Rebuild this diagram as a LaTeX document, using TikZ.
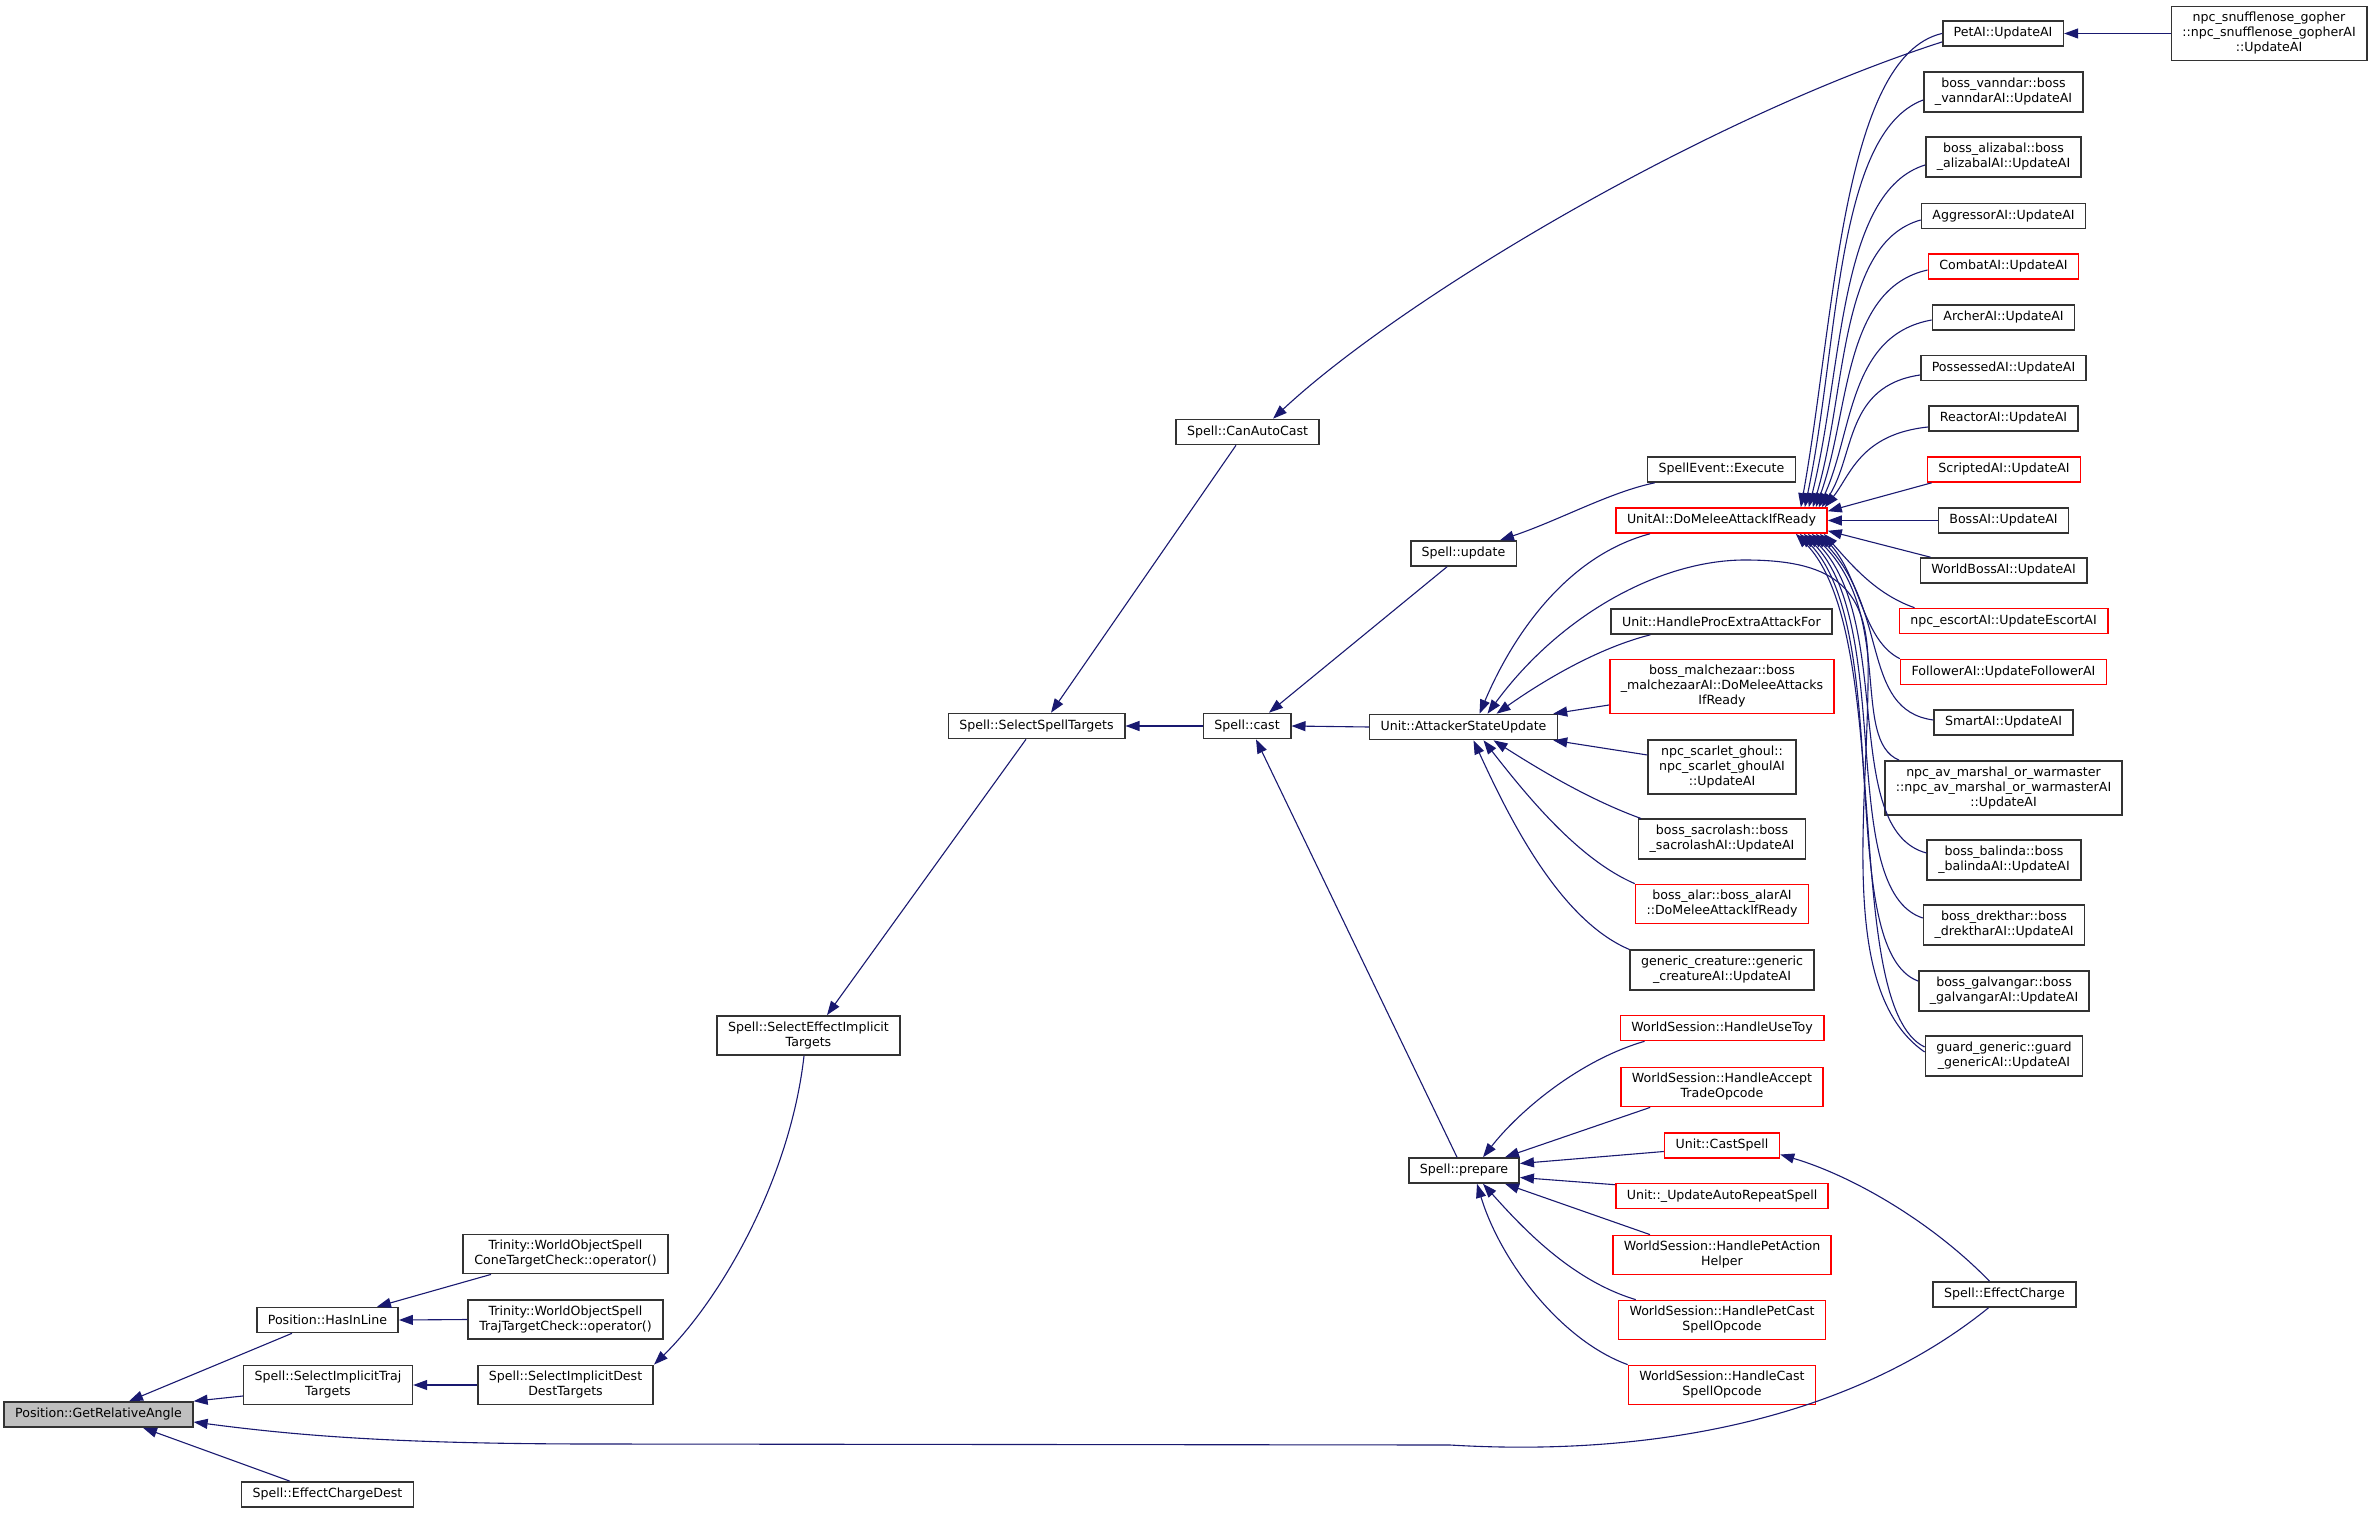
\documentclass[tikz,border=0pt]{standalone}
\usepackage{fontspec}
\setmainfont{DejaVu Sans}
\usetikzlibrary{arrows.meta,calc}

\definecolor{edgeblue}{HTML}{191970}
\definecolor{rootgray}{HTML}{BFBFBF}

\tikzset{
  fn/.style={draw=black!80, line width=0.8pt, fill=white, inner xsep=5.5pt,
    inner ysep=3pt, minimum height=12.5pt, align=center,
    font=\fontsize{6.3}{7.5}\selectfont},
  trunc/.style={fn, draw=red},
  root/.style={fn, fill=rootgray},
  call/.style={draw=edgeblue, line width=0.55pt, {Triangle[length=7pt,width=5pt]}-},
}

\begin{document}
\begin{tikzpicture}[x=0.5pt, y=-0.5pt]
  \useasboundingbox (0,0) rectangle (2376,1513);

  % --- left part: GetRelativeAngle and its callers ---
  \node[root] (gra) at (98.5,1414.5) {Position::GetRelativeAngle};
  \node[fn] (hil) at (327.5,1320) {Position::HasInLine};
  \node[fn] (sitt) at (328,1385) {Spell::SelectImplicitTraj\\Targets};
  \node[fn] (ecd) at (327.5,1494.5) {Spell::EffectChargeDest};
  \node[fn] (cone) at (565.5,1254) {Trinity::WorldObjectSpell\\ConeTargetCheck::operator()};
  \node[fn] (traj) at (565.5,1319.5) {Trinity::WorldObjectSpell\\TrajTargetCheck::operator()};
  \node[fn] (sidd) at (565.5,1385) {Spell::SelectImplicitDest\\DestTargets};
  \node[fn] (seit) at (808.5,1035.5) {Spell::SelectEffectImplicit\\Targets};
  \node[fn] (sst) at (1036.5,726) {Spell::SelectSpellTargets};
  \node[fn] (cac) at (1247.5,432) {Spell::CanAutoCast};
  \node[fn] (cast) at (1247,726) {Spell::cast};

  % --- middle column ---
  \node[fn] (upd) at (1463.5,553.5) {Spell::update};
  \node[fn] (asu) at (1463.5,727) {Unit::AttackerStateUpdate};
  \node[fn] (prep) at (1464,1170.5) {Spell::prepare};

  % --- callers of update / AttackerStateUpdate / prepare ---
  \node[fn] (exe) at (1721.5,469.5) {SpellEvent::Execute};
  \node[trunc] (dmaf) at (1721.5,520.5) {UnitAI::DoMeleeAttackIfReady};
  \node[fn] (hpea) at (1721.5,621.5) {Unit::HandleProcExtraAttackFor};
  \node[trunc] (malch) at (1722,686.5) {boss\_malchezaar::boss\\\_malchezaarAI::DoMeleeAttacks\\IfReady};
  \node[fn] (ghoul) at (1722,767) {npc\_scarlet\_ghoul::\\npc\_scarlet\_ghoulAI\\::UpdateAI};
  \node[fn] (sacro) at (1722,839) {boss\_sacrolash::boss\\\_sacrolashAI::UpdateAI};
  \node[trunc] (alar) at (1722,904) {boss\_alar::boss\_alarAI\\::DoMeleeAttackIfReady};
  \node[fn] (gencr) at (1722,970) {generic\_creature::generic\\\_creatureAI::UpdateAI};
  \node[trunc] (usetoy) at (1722,1028) {WorldSession::HandleUseToy};
  \node[trunc] (trade) at (1722,1087) {WorldSession::HandleAccept\\TradeOpcode};
  \node[trunc] (castsp) at (1722,1145.5) {Unit::CastSpell};
  \node[trunc] (autorep) at (1722,1196) {Unit::\_UpdateAutoRepeatSpell};
  \node[trunc] (petact) at (1722,1255) {WorldSession::HandlePetAction\\Helper};
  \node[trunc] (petcast) at (1722,1320) {WorldSession::HandlePetCast\\SpellOpcode};
  \node[trunc] (castop) at (1722,1385) {WorldSession::HandleCast\\SpellOpcode};

  % --- right column: AI update functions ---
  \node[fn] (petai) at (2003,33.5) {PetAI::UpdateAI};
  \node[fn] (snuff) at (2269,33.5) {npc\_snufflenose\_gopher\\::npc\_snufflenose\_gopherAI\\::UpdateAI};
  \node[fn] (vann) at (2003.5,92) {boss\_vanndar::boss\\\_vanndarAI::UpdateAI};
  \node[fn] (aliz) at (2003.5,157) {boss\_alizabal::boss\\\_alizabalAI::UpdateAI};
  \node[fn] (aggr) at (2003.5,216) {AggressorAI::UpdateAI};
  \node[trunc] (combat) at (2003.5,266.5) {CombatAI::UpdateAI};
  \node[fn] (archer) at (2003.5,317.5) {ArcherAI::UpdateAI};
  \node[fn] (possessed) at (2003.5,368) {PossessedAI::UpdateAI};
  \node[fn] (reactor) at (2003.5,418.5) {ReactorAI::UpdateAI};
  \node[trunc] (scripted) at (2004,469.5) {ScriptedAI::UpdateAI};
  \node[fn] (bossai) at (2003.5,520.5) {BossAI::UpdateAI};
  \node[fn] (wboss) at (2003.5,570.5) {WorldBossAI::UpdateAI};
  \node[trunc] (escort) at (2003.5,621) {npc\_escortAI::UpdateEscortAI};
  \node[trunc] (follower) at (2003.5,672) {FollowerAI::UpdateFollowerAI};
  \node[fn] (smart) at (2003.5,722.5) {SmartAI::UpdateAI};
  \node[fn] (avm) at (2003.5,788) {npc\_av\_marshal\_or\_warmaster\\::npc\_av\_marshal\_or\_warmasterAI\\::UpdateAI};
  \node[fn] (balinda) at (2004,860) {boss\_balinda::boss\\\_balindaAI::UpdateAI};
  \node[fn] (drek) at (2004,925) {boss\_drekthar::boss\\\_drektharAI::UpdateAI};
  \node[fn] (galv) at (2004,991) {boss\_galvangar::boss\\\_galvangarAI::UpdateAI};
  \node[fn] (guard) at (2004,1056) {guard\_generic::guard\\\_genericAI::UpdateAI};
  \node[fn] (echarge) at (2004.5,1294.5) {Spell::EffectCharge};

  % --- edges, arrow head at the called function ---
  \draw[call] ($(gra.north)+(30.5,0)$) -- ($(hil.south)+(-35.5,0)$);
  \draw[call] (gra.north east) -- ($(sitt.west)+(0,11)$);
  \draw[call] ($(gra.south)+(44.5,0)$) -- ($(ecd.north)+(-37.5,0)$);
  \draw[call] ($(gra.east)+(0,7.5)$) .. controls (300,1436) and (400,1444) .. (600,1444)
    -- (1450,1445) .. controls (1650,1457) and (1850,1420) .. ($(echarge.south)+(-16,0)$);
  \draw[call] ($(hil.north)+(49.5,0)$) -- ($(cone.south)+(-74.5,0)$);
  \draw[call] (hil.east) -- (traj.west);
  \draw[call] (sitt.east) -- (sidd.west);
  \draw[call] (sidd.north east) .. controls (720,1300) and (790,1180) .. ($(seit.south)+(-4.5,0)$);
  \draw[call] ($(seit.north)+(18.5,0)$) -- ($(sst.south)+(-10.5,0)$);
  \draw[call] ($(sst.north)+(14.5,0)$) -- ($(cac.south)+(-11.5,0)$);
  \draw[call] (sst.east) -- (cast.west);
  \draw[call] ($(cac.north)+(25.5,0)$) .. controls (1400,300) and (1700,120) .. ($(petai.west)+(0,8.5)$);
  \draw[call] ($(cast.north)+(22,0)$) -- ($(upd.south)+(-16.5,0)$);
  \draw[call] (cast.east) -- (asu.west);
  \draw[call] ($(cast.south)+(9,0)$) -- ($(prep.north)+(-7,0)$);
  \draw[call] ($(upd.north)+(36.5,0)$) .. controls (1560,520) and (1610,492) .. ($(exe.south west)+(8,0)$);

  % AttackerStateUpdate
  \draw[call] ($(asu.north)+(16,0)$) .. controls (1515,630) and (1570,555) .. ($(dmaf.south)+(-71.5,0)$);
  \draw[call] ($(asu.north)+(24,0)$) .. controls (1560,615) and (1660,560) .. (1745,560)
    .. controls (1830,560) and (1866,585) .. (1868,660)
    .. controls (1870,800) and (1835,990) .. ($(guard.west)+(0,-4)$);
  \draw[call] ($(asu.north)+(33,0)$) .. controls (1530,690) and (1590,650) .. ($(hpea.south west)+(40,0)$);
  \draw[call] ($(asu.north east)+(-5,0)$) -- ($(malch.west)+(0,18.5)$);
  \draw[call] ($(asu.south east)+(-5,0)$) -- ($(ghoul.west)+(0,-12)$);
  \draw[call] ($(asu.south)+(30,0)$) .. controls (1540,770) and (1590,800) .. ($(sacro.north west)+(3,0)$);
  \draw[call] ($(asu.south)+(20,0)$) .. controls (1530,800) and (1580,860) .. (alar.north west);
  \draw[call] ($(asu.south)+(10,0)$) .. controls (1510,820) and (1560,920) .. (gencr.north west);

  % prepare
  \draw[call] ($(prep.north)+(19,0)$) .. controls (1520,1110) and (1580,1060) .. ($(usetoy.south west)+(25,0)$);
  \draw[call] ($(prep.north)+(41,0)$) -- ($(trade.south west)+(30,0)$);
  \draw[call] ($(prep.east)+(0,-7)$) -- ($(castsp.west)+(0,6)$);
  \draw[call] ($(prep.east)+(0,7)$) -- ($(autorep.north west)+(0,2)$);
  \draw[call] ($(prep.south)+(41,0)$) -- ($(petact.north west)+(38,0)$);
  \draw[call] ($(prep.south)+(19,0)$) .. controls (1520,1225) and (1570,1280) .. ($(petcast.north west)+(18,0)$);
  \draw[call] ($(prep.south)+(13,0)$) .. controls (1500,1260) and (1560,1340) .. (castop.north west);
  \draw[call] ($(castsp.east)+(0,9)$) .. controls (1850,1175) and (1930,1220) .. ($(echarge.north)+(-15,0)$);
  \draw[call] (petai.east) -- (snuff.west);

  % DoMeleeAttackIfReady, callers above
  \draw[call] ($(dmaf.north east)+(-27,0)$) .. controls (1835,318) and (1842,57) .. (petai.west);
  \draw[call] ($(dmaf.north east)+(-23,0)$) .. controls (1839,345) and (1835,133) .. ($(vann.west)+(0,8)$);
  \draw[call] ($(dmaf.north east)+(-19,0)$) .. controls (1843,371) and (1838,192) .. ($(aliz.west)+(0,8)$);
  \draw[call] ($(dmaf.north east)+(-15,0)$) .. controls (1847,393) and (1838,243) .. ($(aggr.west)+(0,4)$);
  \draw[call] ($(dmaf.north east)+(-12,0)$) .. controls (1850,413) and (1842,289) .. ($(combat.west)+(0,3.5)$);
  \draw[call] ($(dmaf.north east)+(-9,0)$) .. controls (1853,433) and (1848,335) .. ($(archer.west)+(0,2.5)$);
  \draw[call] ($(dmaf.north east)+(-6,0)$) .. controls (1855,455) and (1845,386) .. ($(possessed.west)+(0,7)$);
  \draw[call] ($(dmaf.north east)+(-3,0)$) .. controls (1850,476) and (1860,434) .. ($(reactor.west)+(0,8.5)$);
  \draw[call] ($(dmaf.north east)+(0,4)$) -- ($(scripted.south west)+(5,0)$);
  \draw[call] (dmaf.east) -- (bossai.west);
  \draw[call] ($(dmaf.south east)+(0,-3)$) -- ($(wboss.north west)+(11,0)$);
  % callers below
  \draw[call] ($(dmaf.south east)+(-4,0)$) .. controls (1850,563) and (1875,594) .. ($(escort.north west)+(16,0)$);
  \draw[call] ($(dmaf.south east)+(-8,0)$) .. controls (1860,575) and (1862,640) .. (follower.north west);
  \draw[call] ($(dmaf.south east)+(-12,0)$) .. controls (1890,610) and (1860,710) .. ($(smart.west)+(0,-2.5)$);
  \draw[call] ($(dmaf.south east)+(-16,0)$) .. controls (1895,615) and (1850,740) .. ($(avm.north west)+(15,0)$);
  \draw[call] ($(dmaf.south east)+(-20,0)$) .. controls (1895,620) and (1840,830) .. ($(balinda.west)+(0,-7)$);
  \draw[call] ($(dmaf.south east)+(-24,0)$) .. controls (1895,625) and (1836,890) .. ($(drek.west)+(0,-7)$);
  \draw[call] ($(dmaf.south east)+(-28,0)$) .. controls (1895,630) and (1834,950) .. ($(galv.west)+(0,-10)$);
  \draw[call] ($(dmaf.south east)+(-32,0)$) .. controls (1895,633) and (1840,1006) .. ($(guard.west)+(0,-9)$);
\end{tikzpicture}
\end{document}
